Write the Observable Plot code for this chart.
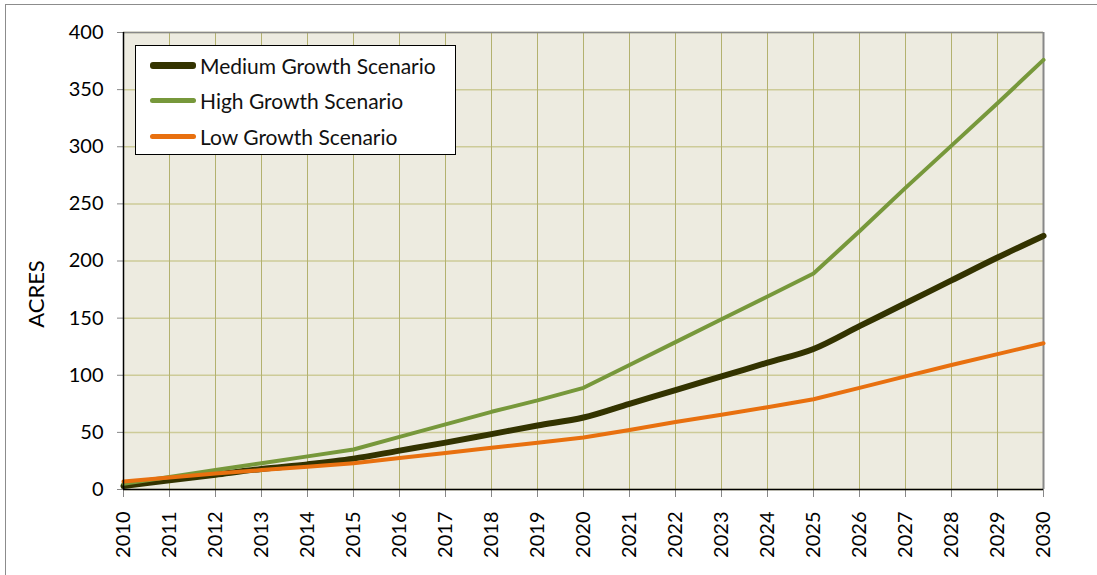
<!DOCTYPE html>
<html><head><meta charset="utf-8">
<script src="https://cdn.jsdelivr.net/npm/d3@7"></script>
<script src="https://cdn.jsdelivr.net/npm/@observablehq/plot@0.6"></script>
<style>
body{margin:0;background:#fff;font-family:Lato,"Open Sans",sans-serif}
#wrap{position:relative;width:1097px;height:575px;overflow:hidden}
#frame{position:absolute;left:5px;top:4px;width:1100px;height:600px;border-left:1.5px solid #8c8c8c;border-top:1.5px solid #8c8c8c;pointer-events:none}
#chart{position:absolute;left:0;top:0}
#ylabel{position:absolute;left:35px;top:294px;transform:translate(-50%,-50%) rotate(-90deg);font-size:22px;color:#000;white-space:nowrap}
#legend{position:absolute;left:135px;top:45px;width:321px;height:110px;background:#fff;border:1.5px solid #000;box-sizing:border-box}
.item{position:absolute;left:14px;height:22px;display:flex;align-items:center;font-size:21px;color:#111;white-space:nowrap}
.sw{width:46px;margin-right:4px;border-radius:3px}
</style></head>
<body>
<div id="wrap"><div id="chart"></div><div id="frame"></div><div id="ylabel"></div><div id="legend"></div></div>
<script>
const years = [2010,2011,2012,2013,2014,2015,2016,2017,2018,2019,2020,2021,2022,2023,2024,2025,2026,2027,2028,2029,2030];
const medium = [3,8,13,18,22,27,34,41,48.5,56,63,75,87,99,111,123,143,163,183,203,222];
const high = [5,11,17,23,29,35,46,57,68,78,89,109,129,149,169,189,226,264,301,338,376];
const low = [7,10.5,14,17,20,23,27.5,32,36.5,41,45.5,52,59,65.5,72,79,89,99,109,118.5,128];
const seriesNames = ["Medium Growth Scenario","High Growth Scenario","Low Growth Scenario"];
const seriesColors = ["#333300","#77983b","#e8700f"];
const seriesWidths = [6,4,4];
const yTicks = [0,50,100,150,200,250,300,350,400];
const yLabel = "ACRES";

const mk = arr => years.map((y,i)=>({year:y, value:arr[i]}));
const tables = [mk(medium), mk(high), mk(low)];

const chart = Plot.plot({
  width:1097, height:575,
  marginLeft:123, marginRight:54, marginTop:32, marginBottom:86,
  style:{fontSize:"20px", fontFamily:"Lato, 'Open Sans', sans-serif", color:"#000", background:"transparent", overflow:"visible"},
  x:{domain:[2010,2030], ticks:years, tickFormat:d=>String(d)},
  y:{domain:[0,400], ticks:yTicks},
  marks:[
    Plot.frame({fill:"#edebe0", stroke:null}),
    Plot.gridY(yTicks, {stroke:"#cdcb98", strokeOpacity:1, strokeWidth:1.5}),
    Plot.gridX(years, {stroke:"#b3b16f", strokeOpacity:1, strokeWidth:1}),
    Plot.ruleX([2030], {stroke:"#888", strokeWidth:2}),
    Plot.ruleY([400], {stroke:"#888", strokeWidth:1.5}),
    Plot.axisY({ticks:yTicks, tickSize:6, tickPadding:14, stroke:"#888", label:null}),
    Plot.axisX({ticks:years, tickSize:8, tickPadding:14, tickRotate:-90, stroke:"#888", label:null, tickFormat:d=>String(d)}),
    ...tables.map((t,i)=>Plot.line(t,{x:"year", y:"value", stroke:seriesColors[i], strokeWidth:seriesWidths[i], curve: i===0 ? "monotone-x" : "linear"})),
    Plot.ruleX([2010], {stroke:"#000", strokeWidth:1.5}),
    Plot.ruleY([0], {stroke:"#000", strokeWidth:1.5})
  ]
});
document.getElementById("chart").appendChild(chart);
document.getElementById("ylabel").textContent = yLabel;

const leg = document.getElementById("legend");
seriesNames.forEach((n,i)=>{
  const d = document.createElement("div");
  d.className="item";
  d.style.top = (8 + i*35.5) + "px";
  d.innerHTML = `<span class="sw" style="height:${seriesWidths[i]+1}px;background:${seriesColors[i]}"></span><span>${n}</span>`;
  leg.appendChild(d);
});
</script>
</body></html>
